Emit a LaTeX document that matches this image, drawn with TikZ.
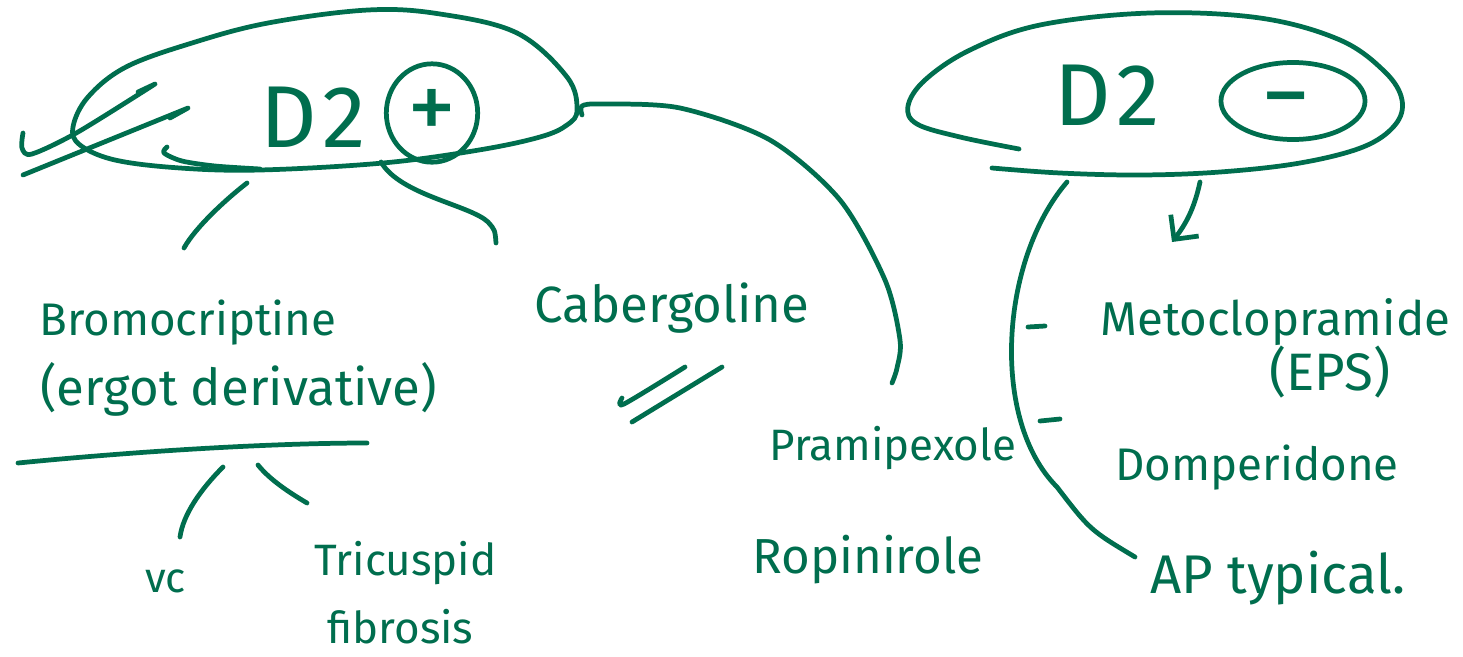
\documentclass[tikz,border=0pt]{standalone}
\usepackage{fontspec}
\setmainfont{Fira Sans}
\usetikzlibrary{arrows.meta,shapes.geometric}
\definecolor{ink}{RGB}{0,110,78}

\begin{document}
\begin{tikzpicture}[x=0.02cm,y=-0.02cm,ink,line width=2.7pt,line cap=round,line join=round,
    >={Straight Barb[length=10pt,width=20pt]}]

    \tikzstyle{every node}=[text=ink,inner sep=0pt]
    \tikzstyle{sign}=[ellipse,draw,line width=2.7pt,font=\fontsize{56}{56}\selectfont,
        text height=31pt,text depth=0pt]
    \tikzset{hand/.style={anchor=base west,font=\fontsize{#1}{#1}\selectfont}}

    \useasboundingbox[fill=white] (0,0) rectangle (1463,656);

    % agonist loop
    \draw plot[smooth cycle,tension=0.6] coordinates {(577,110) (567,77) (517,33) (440,14) (368,10)
        (268,23) (192,43) (126,67) (88,97) (73,127) (80,145) (115,160) (180,168) (260,170)
        (383,163) (479,150) (540,137) (567,125)};
    \draw plot[smooth] coordinates {(167,147) (164,153) (182,161) (215,166) (260,169)};
    \node[hand=50] (dpos) at (258,147) {D\kern3pt2};
    \node[sign,minimum width=52pt,minimum height=56pt] (plus) at (432,113) {+};

    % upward arrows
    \draw plot[smooth] coordinates {(23,133) (22,148) (32,154) (78,132) (155,84)} -- (138,92);
    \draw (23,175) -- (188,108) -- (170,118);

    % antagonist loop
    \draw plot[smooth,tension=0.6] coordinates {(1019,149) (960,137) (917,124) (908,106) (925,80)
        (970,50) (1040,25) (1150,13) (1260,18) (1340,40) (1385,72) (1402,100) (1395,125)
        (1363,147) (1300,163) (1220,172) (1140,175) (1060,173) (992,168)};
    \node[hand=50] (dneg) at (1052,125) {D\kern3pt2};
    \node[sign,minimum width=82pt,minimum height=42pt] (minus) at (1293,101) {−\kern8pt};

    % drugs
    \node[hand=26] (bromo)  at (37,335)   {Bromocriptine};
    \node[hand=29] (ergot)  at (38,405)   {(ergot derivative)};
    \node[hand=24] (vc)     at (143,592)  {vc};
    \node[hand=25] (tricus) at (312,575)  {Tricuspid};
    \node[hand=25] (fibro)  at (325,643)  {fibrosis};
    \node[hand=29] (cabergo) at (532,322) {Cabergoline};
    \node[hand=25] (prami)  at (767,460)  {Pramipexole};
    \node[hand=28] (ropini) at (750,573)  {Ropinirole};
    \node[hand=27] (meto)   at (1098,335) {Metoclopramide};
    \node[hand=30] (eps)    at (1267,390) {(EPS)};
    \node[hand=26] (domperi) at (1113,480) {Domperidone};
    \node[hand=31] (aptyp)  at (1148,593) {AP typical.};

    \coordinate (posL) at (247,183);
    \coordinate (posR) at (381,162);
    \coordinate (posT) at (582,115);
    \coordinate (bromoT) at (184,248);
    \coordinate (caberT) at (496,243);
    \coordinate (pramiT) at (892,383);
    \coordinate (ulA) at (18,463);
    \coordinate (ulB) at (367,443);
    \coordinate (ulL) at (223,467);
    \coordinate (ulR) at (258,465);
    \coordinate (vcT) at (180,537);
    \coordinate (tricT) at (307,503);
    \coordinate (negA) at (1200,182);
    \coordinate (metoT) at (1172,242);
    \coordinate (negB) at (1067,182);
    \coordinate (apW) at (1135,557);

    \draw (posL) .. controls (225,200) and (195,228) .. (bromoT);
    \draw (posR) .. controls (400,195) and (470,205) .. (488,222) .. controls (495,230) .. (caberT);
    \draw plot[smooth] coordinates {(posT) (582,106) (601,104) (680,108) (770,140) (840,200)
        (885,280) (900,340) (897,368) (pramiT)};
    \draw (ulA) .. controls (150,450) and (280,443) .. (ulB);
    \draw (ulL) .. controls (200,490) and (183,515) .. (vcT);
    \draw (ulR) .. controls (270,480) and (290,493) .. (tricT);

    % double underline
    \draw plot[smooth] coordinates {(622,398) (624,404) (685,367)};
    \draw (632,422) -- (722,367);

    \draw[->] (negA) .. controls (1194,210) and (1185,225) .. (metoT);
    \draw (negB) .. controls (1000,260) and (990,420) .. (1057,487) .. controls (1090,530) .. (apW);
    \draw (1028,327) -- (1045,326);
    \draw (1040,421) -- (1060,419);

\end{tikzpicture}
\end{document}
